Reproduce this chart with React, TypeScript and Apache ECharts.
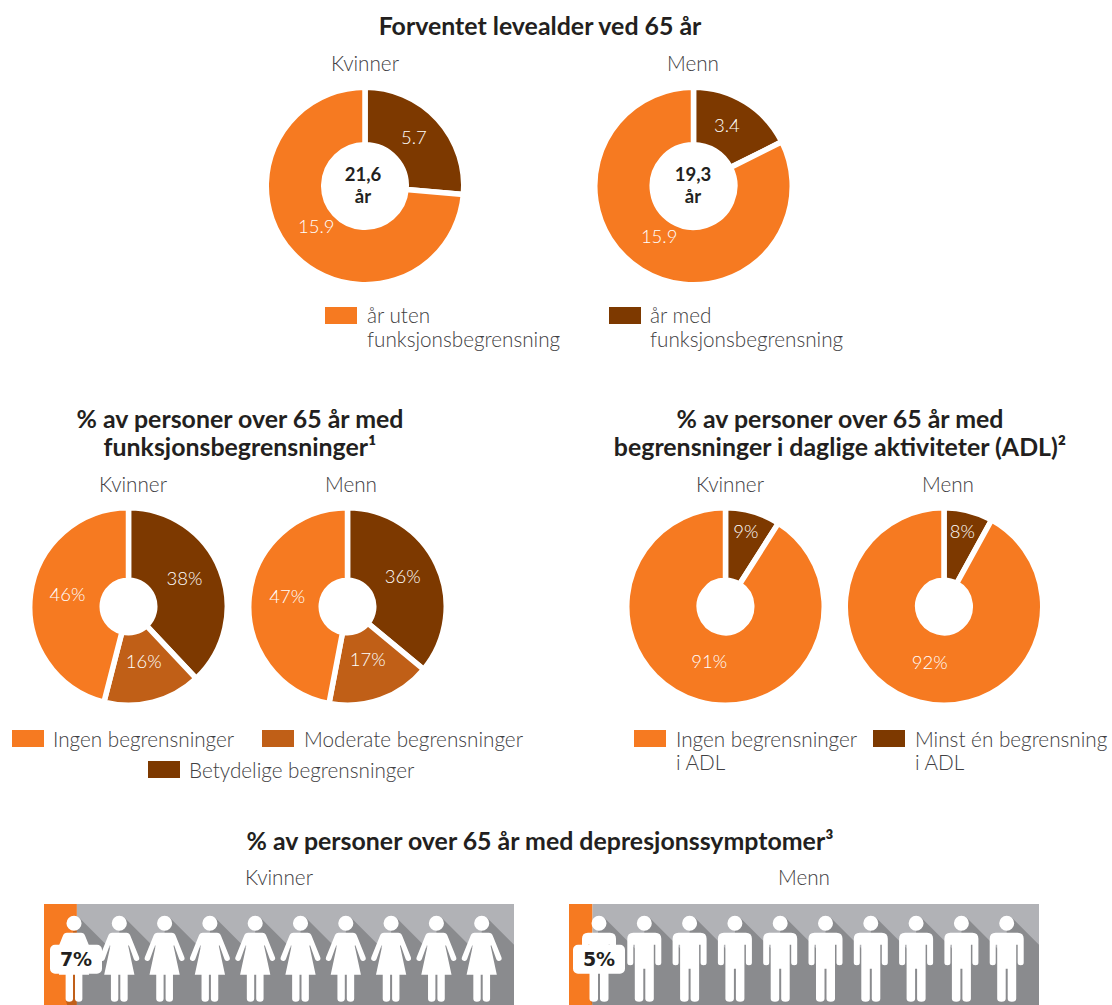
import React, { useEffect, useRef } from "react";
import * as echarts from "echarts";

const ORANGE = "#f67a21";
const MID = "#c05f17";
const DARK = "#7d3900";
const TEXT = "#414042";
const BODY_FONT = "Lato";
const HEAD_FONT = "Lato";

// Forventet levealder ved 65 år
const lifeWomen = [5.7, 15.9];
const lifeMen = [3.4, 15.9];
const lifeCentre = ["21,6\når", "19,3\når"];
const lifeNames = ["år med funksjonsbegrensning", "år uten funksjonsbegrensning"];
// Funksjonsbegrensninger
const funcWomen = [38, 16, 46];
const funcMen = [36, 17, 47];
const funcNames = ["Betydelige begrensninger", "Moderate begrensninger", "Ingen begrensninger"];
// ADL
const adlWomen = [9, 91];
const adlMen = [8, 92];
const adlNames = ["Minst én begrensning i ADL", "Ingen begrensninger i ADL"];
// Depresjon
const depressionWomen = 7;
const depressionMen = 5;
const personIndex = [0, 1, 2, 3, 4, 5, 6, 7, 8, 9];

const WOMAN =
  "path://M12.5 7.5A7.5 7.5 0 1 1 27.5 7.5A7.5 7.5 0 1 1 12.5 7.5ZM13 17L27 17Q30 17 31 20L39.6 41.5Q40.5 44 38 45Q35.5 46 34.5 43.5L29.5 29.5L28.8 30L35 59L28.3 59L28.3 83Q28.3 86 24.8 86Q21 86 21 83L21 59L19 59L19 83Q19 86 15.2 86Q11.7 86 11.7 83L11.7 59L5 59L11.2 30L10.5 29.5L5.5 43.5Q4.5 46 2 45Q-.5 44 .4 41.5L9 20Q10 17 13 17Z";
const MAN =
  "path://M9.5 0A7.5 7.5 0 1 1 24.5 0A7.5 7.5 0 1 1 9.5 0ZM6 9.5L28 9.5Q34 9.5 34 15.5L34 39.5Q34 42 31 42Q28 42 28 39.5L28 21.5L26.5 21.5L26.5 75.5Q26.5 78.5 22.2 78.5Q18 78.5 18 75.5L18 45.5L16 45.5L16 75.5Q16 78.5 11.8 78.5Q7.5 78.5 7.5 75.5L7.5 21.5L6 21.5L6 39.5Q6 42 3 42Q0 42 0 39.5L0 15.5Q0 9.5 6 9.5Z";

function pie(cx: number, cy: number, inner: number, values: number[], names: string[], colors: string[], suffix: string, offsets: number[][]) {
  return {
    type: "pie",
    center: [cx, cy],
    radius: [inner, 98.75],
    startAngle: 90,
    clockwise: true,
    silent: true,
    itemStyle: { borderColor: "#fff", borderWidth: 5.5 },
    labelLine: { show: false },
    label: {
      show: true,
      position: "inside",
      color: "#ffffff",
      fontFamily: BODY_FONT,
      fontWeight: 300,
      fontSize: 18.5,
      formatter: (p: any) => `${p.value}${suffix}`,
    },
    data: values.map((v, i) => ({
      value: v,
      name: names[i],
      itemStyle: { color: colors[i] },
      label: { offset: offsets[i] },
    })),
  };
}

const heading = (text: string, x: number, y: number) => ({
  type: "text",
  x,
  y,
  style: { text, fill: "#231f20", font: `700 24.9px ${HEAD_FONT}`, align: "center", verticalAlign: "middle" },
});
const body = (text: string, x: number, y: number, align = "center") => ({
  type: "text",
  x,
  y,
  style: { text, fill: TEXT, font: `300 20.7px ${BODY_FONT}`, align, verticalAlign: "middle" },
});
const swatch = (x: number, y: number, fill: string) => ({ type: "rect", shape: { x, y, width: 32, height: 17 }, style: { fill } });
const centreText = (text: string, x: number, y: number) => ({
  type: "text",
  x,
  y,
  style: { text, fill: "#231f20", font: `700 18.5px ${HEAD_FONT}`, align: "center", verticalAlign: "middle", lineHeight: 21.5 },
});

function panelSeries(idx: number, value: number, symbol: string, size: number[]) {
  const pctAxis = idx * 2;
  const personAxis = idx * 2 + 1;
  return [
    { type: "bar", xAxisIndex: pctAxis, yAxisIndex: idx, stack: `p${idx}`, barWidth: "100%", silent: true, z: 1, itemStyle: { color: ORANGE }, data: [value] },
    { type: "bar", xAxisIndex: pctAxis, yAxisIndex: idx, stack: `p${idx}`, barWidth: "100%", silent: true, z: 1, itemStyle: { color: "#b1b2b6" }, data: [100 - value] },
    {
      type: "custom",
      xAxisIndex: personAxis,
      yAxisIndex: idx,
      z: 2,
      silent: true,
      clip: true,
      data: [[0, 0]],
      renderItem: (_: any, api: any) => {
        const mid = api.coord([0, 0])[1];
        const headY = mid - 31.5;
        const bottom = mid + 60;
        const xs = personIndex.map((i) => api.coord([i, 0])[0]);
        const pts: number[][] = [[xs[0] - 4, bottom], [xs[0] - 8, mid + 46.5], [xs[0], headY]];
        xs.forEach((x, k) => {
          const next = k < xs.length - 1 ? xs[k + 1] : x + 120;
          pts.push([x + 5.3, headY - 5.3]);
          pts.push([next, headY - 5.3 + (next - x - 5.3)]);
          if (k < xs.length - 1) pts.push([next, headY]);
        });
        pts.push([xs[xs.length - 1] + 120, bottom]);
        return { type: "polygon", shape: { points: pts }, style: { fill: "rgba(0,0,0,0.22)" } };
      },
    },
    {
      type: "scatter",
      xAxisIndex: personAxis,
      yAxisIndex: idx,
      z: 3,
      silent: true,
      symbol,
      symbolSize: size,
      symbolKeepAspect: false,
      symbolOffset: [0, 4.2],
      itemStyle: { color: "#fff", opacity: 1 },
      data: personIndex.map((i) =>
        i === 0
          ? {
              value: [i, 0],
              label: {
                show: true,
                position: "inside",
                offset: [idx === 0 ? 2 : 0, 0.5],
                formatter: `${value}%`,
                color: "#231f20",
                fontFamily: "DejaVu Sans",
                fontWeight: 700,
                fontSize: 19,
                backgroundColor: "#fff",
                borderRadius: 5,
                width: 52,
                height: 29,
                lineHeight: 29,
                align: "center",
                verticalAlign: "middle",
              },
            }
          : { value: [i, 0] },
      ),
    },
  ];
}

const hidden = { show: false };
const pctX = (gridIndex: number) => ({ type: "value", gridIndex, min: 0, max: 100, ...hidden });
const personX = (gridIndex: number) => ({ type: "value", gridIndex, min: -30 / 45.3, max: 440 / 45.3, ...hidden });
const catY = (gridIndex: number) => ({ type: "category", gridIndex, data: ["andel"], ...hidden });

export default function App() {
  const ref = useRef<HTMLDivElement>(null);
  useEffect(() => {
    const chart = echarts.init(ref.current!, undefined, { renderer: "svg" });
    chart.setOption({
      animation: false,
      grid: [
        { left: 44, top: 904, width: 470, height: 101 },
        { left: 569, top: 904, width: 470, height: 101 },
      ],
      xAxis: [pctX(0), personX(0), pctX(1), personX(1)],
      yAxis: [catY(0), catY(1)],
      series: [
        pie(365, 186, 41.25, lifeWomen, lifeNames, [DARK, ORANGE], "", [[-5, 0], [5, -9]]),
        pie(693.5, 186, 41.25, lifeMen, lifeNames, [DARK, ORANGE], "", [[-5, 1], [4, -12]]),
        pie(128.5, 606.5, 26.25, funcWomen, funcNames, [DARK, MID, ORANGE], "%", [[-5, -4], [-1, -9], [4, -4]]),
        pie(347.5, 606.5, 26.25, funcMen, funcNames, [DARK, MID, ORANGE], "%", [[-4, -3], [-2, -9], [5, -4]]),
        pie(725.5, 606.5, 26.25, adlWomen, adlNames, [DARK, ORANGE], "%", [[2, -13], [2, -8]]),
        pie(944, 606.5, 26.25, adlMen, adlNames, [DARK, ORANGE], "%", [[2, -12], [2, -8]]),
        ...panelSeries(0, depressionWomen, WOMAN, [40, 86]),
        ...panelSeries(1, depressionMen, MAN, [34, 86]),
      ],
      graphic: [
        heading("Forventet levealder ved 65 år", 540, 25),
        heading("% av personer over 65 år med", 240, 418),
        heading("funksjonsbegrensninger¹", 240, 446),
        heading("% av personer over 65 år med", 840, 418),
        heading("begrensninger i daglige aktiviteter (ADL)²", 840, 446),
        heading("% av personer over 65 år med depresjonssymptomer³", 540, 840),
        body("Kvinner", 365, 63),
        body("Menn", 693, 63),
        body("Kvinner", 133, 484),
        body("Menn", 351, 484),
        body("Kvinner", 730, 484),
        body("Menn", 948, 484),
        body("Kvinner", 279, 877),
        body("Menn", 804, 877),
        centreText(lifeCentre[0], 363, 185),
        centreText(lifeCentre[1], 693, 185),
        swatch(325, 307, ORANGE),
        body("år uten", 367, 315, "left"),
        body("funksjonsbegrensning", 367, 339, "left"),
        swatch(609, 307, DARK),
        body("år med", 650, 315, "left"),
        body("funksjonsbegrensning", 650, 339, "left"),
        swatch(12, 730, ORANGE),
        body("Ingen begrensninger", 53, 739, "left"),
        swatch(262, 730, MID),
        body("Moderate begrensninger", 304, 739, "left"),
        swatch(148, 761, DARK),
        body("Betydelige begrensninger", 189, 770, "left"),
        swatch(634, 730, ORANGE),
        body("Ingen begrensninger", 676, 739, "left"),
        body("i ADL", 676, 762, "left"),
        swatch(873, 730, DARK),
        body("Minst én begrensning", 915, 739, "left"),
        body("i ADL", 915, 762, "left"),
      ],
    });
    return () => chart.dispose();
  }, []);
  return <div ref={ref} style={{ position: "absolute", left: 0, top: 0, width: 1112, height: 1005 }} />;
}
